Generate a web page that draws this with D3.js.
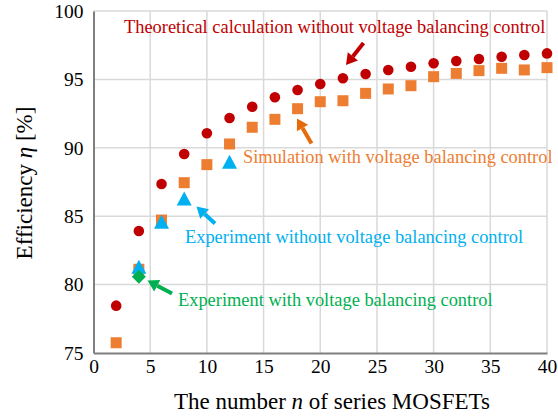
<!DOCTYPE html>
<html>
<head>
<meta charset="utf-8">
<script src="https://cdn.jsdelivr.net/npm/d3@7"></script>
<style>
  html, body { margin: 0; padding: 0; background: #fff; }
  svg { display: block; font-family: "Liberation Serif", "Times New Roman", serif; }
</style>
</head>
<body>
<svg id="chart" width="558" height="420"></svg>
<script>
// Number of series MOSFETs for the full sweep
const nSweep = [2,4,6,8,10,12,14,16,18,20,22,24,26,28,30,32,34,36,38,40];
// Theoretical efficiency without voltage balancing control [%]
const theoretical = [78.46,83.92,87.35,89.55,91.06,92.18,93.0,93.69,94.22,94.66,95.08,95.39,95.69,95.93,96.18,96.35,96.49,96.66,96.78,96.9];
// Simulated efficiency with voltage balancing control [%]
const simulation = [75.75,81.12,84.72,87.45,88.77,90.28,91.5,92.08,92.86,93.37,93.44,93.98,94.3,94.54,95.2,95.44,95.64,95.81,95.69,95.86];
// Measured efficiency without voltage balancing control [%]
const expWithoutN = [4,6,8,12];
const expWithout = [81.2,84.48,86.18,88.87];
// Measured efficiency with voltage balancing control [%]
const expWithN = [4];
const expWith = [80.58];

const xTicks = [0,5,10,15,20,25,30,35,40];
const yTicks = [75,80,85,90,95,100];

const FONT = "Liberation Serif, Times New Roman, serif";
const svg = d3.select("#chart");
const m = { left: 93.5, right: 547, top: 11, bottom: 353 };

const x = d3.scaleLinear().domain([0, 40]).range([m.left, m.right]);
const y = d3.scaleLinear().domain([75, 100]).range([m.bottom, m.top]);

// Grid
const grid = svg.append("g");
grid.selectAll("line.gx").data(xTicks.filter(d => d > 0)).join("line")
  .attr("x1", d => x(d)).attr("x2", d => x(d))
  .attr("y1", m.top).attr("y2", m.bottom)
  .attr("stroke", "#d9d9d9").attr("stroke-width", 1.5);
grid.selectAll("line.gy").data(yTicks.filter(d => d > 75)).join("line")
  .attr("x1", m.left).attr("x2", m.right)
  .attr("y1", d => y(d)).attr("y2", d => y(d))
  .attr("stroke", "#d9d9d9").attr("stroke-width", 1.5);

// Axes
const xAxis = svg.append("g").attr("transform", `translate(0,${m.bottom})`)
  .call(d3.axisBottom(x).tickValues(xTicks).tickSize(0).tickPadding(3));
const yAxis = svg.append("g").attr("transform", `translate(${m.left},0)`)
  .call(d3.axisLeft(y).tickValues(yTicks).tickSize(0).tickPadding(10));
[xAxis, yAxis].forEach(a => {
  a.attr("font-family", FONT).attr("font-size", 19.5);
  a.select(".domain").attr("stroke", "#7f7f7f").attr("stroke-width", 2);
  a.selectAll("text").attr("fill", "#000");
});
xAxis.selectAll("text").attr("dy", "0.85em");

// Axis titles
svg.append("text")
  .attr("x", 332).attr("y", 409)
  .attr("text-anchor", "middle").attr("font-size", 23).attr("font-family", FONT)
  .call(t => {
    t.append("tspan").text("The number ");
    t.append("tspan").attr("font-style", "italic").text("n");
    t.append("tspan").text(" of series MOSFETs");
  });
svg.append("text")
  .attr("transform", "translate(32,183) rotate(-90)")
  .attr("text-anchor", "middle").attr("font-size", 23).attr("font-family", FONT)
  .call(t => {
    t.append("tspan").text("Efficiency ");
    t.append("tspan").attr("font-style", "italic").text("η");
    t.append("tspan").text(" [%]");
  });

const red = "#c00000", orange = "#ed7d31", blue = "#00b0f0", green = "#00b050";

// Theoretical points
svg.append("g").selectAll("circle").data(nSweep).join("circle")
  .attr("cx", d => x(d)).attr("cy", (d, i) => y(theoretical[i]))
  .attr("r", 5.3).attr("fill", red);

// Simulation points
svg.append("g").selectAll("path").data(nSweep).join("path")
  .attr("transform", (d, i) => `translate(${x(d)},${y(simulation[i])})`)
  .attr("d", d3.symbol(d3.symbolSquare, 121))
  .attr("fill", orange);

// Experiment without balancing
svg.append("g").selectAll("path").data(expWithoutN).join("path")
  .attr("transform", (d, i) => `translate(${x(d)},${y(expWithout[i])})`)
  .attr("d", "M0,-8.5L7.5,5.5L-7.5,5.5Z")
  .attr("fill", blue);

// Experiment with balancing
svg.append("g").selectAll("path").data(expWithN).join("path")
  .attr("transform", (d, i) => `translate(${x(d)},${y(expWith[i])})`)
  .attr("d", "M0,-7L7,0L0,7L-7,0Z")
  .attr("fill", green);

// Annotation arrows
function arrow(x1, y1, x2, y2, color) {
  const ang = Math.atan2(y2 - y1, x2 - x1);
  const hl = 11, hw = 6.5;
  const bx = x2 - hl * Math.cos(ang), by = y2 - hl * Math.sin(ang);
  svg.append("line").attr("x1", x1).attr("y1", y1).attr("x2", bx).attr("y2", by)
    .attr("stroke", color).attr("stroke-width", 4);
  const px = -Math.sin(ang), py = Math.cos(ang);
  svg.append("path")
    .attr("d", `M${x2},${y2}L${bx + px * hw},${by + py * hw}L${bx - px * hw},${by - py * hw}Z`)
    .attr("fill", color);
}
arrow(363.5, 43, 346, 65, red);
arrow(311.5, 143.5, 297, 118.5, "#e46c0a");
arrow(215, 223.5, 196.5, 206.5, blue);
arrow(172, 293.5, 147.5, 280.5, green);

// Annotation labels
const labels = [
  { t: "Theoretical calculation without voltage balancing control", x: 124, y: 33, c: red },
  { t: "Simulation with voltage balancing control", x: 243, y: 163, c: orange },
  { t: "Experiment without voltage balancing control", x: 185, y: 242.5, c: blue },
  { t: "Experiment with voltage balancing control", x: 178, y: 305.5, c: green }
];
svg.append("g").selectAll("text").data(labels).join("text")
  .attr("x", d => d.x).attr("y", d => d.y)
  .attr("font-size", 18.4).attr("font-family", FONT).attr("fill", d => d.c)
  .text(d => d.t);
</script>
</body>
</html>
